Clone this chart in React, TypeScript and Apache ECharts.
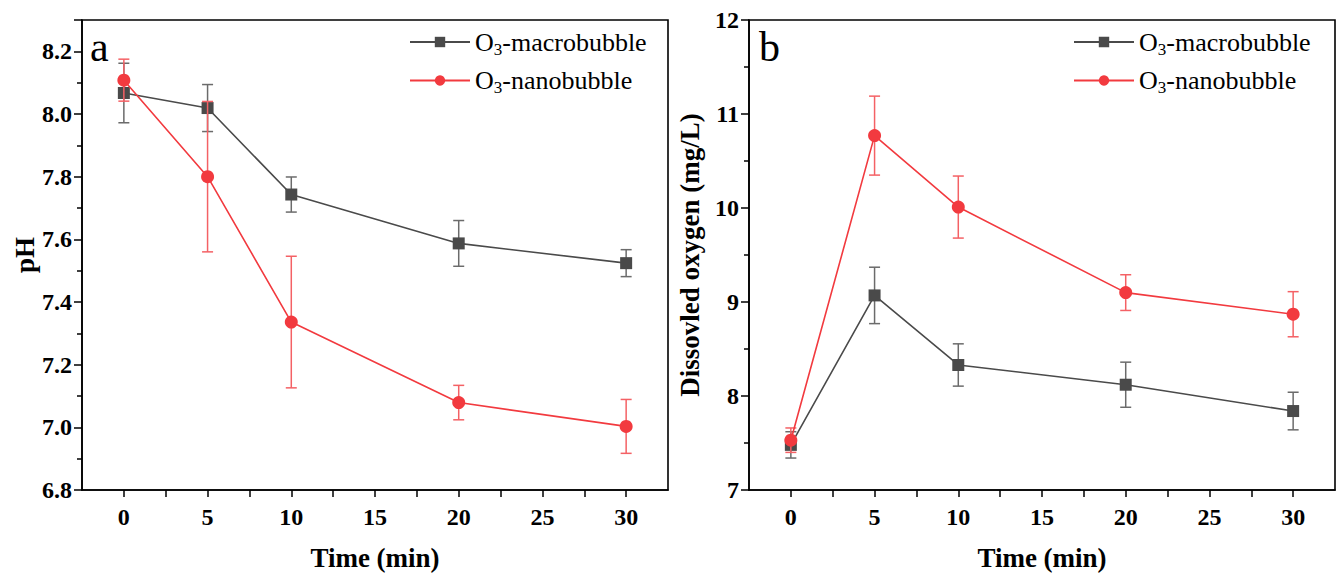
import React, { useEffect, useRef } from "react";
import * as echarts from "echarts";

const times = [0, 5, 10, 20, 30];
const phMacro = [8.067, 8.019, 7.743, 7.587, 7.524];
const phMacroErr = [0.095, 0.075, 0.056, 0.073, 0.043];
const phNano = [8.108, 7.8, 7.336, 7.079, 7.003];
const phNanoErr = [0.067, 0.24, 0.21, 0.055, 0.086];
const doMacro = [7.48, 9.07, 8.33, 8.12, 7.84];
const doMacroErr = [0.14, 0.3, 0.225, 0.24, 0.2];
const doNano = [7.53, 10.77, 10.01, 9.1, 8.87];
const doNanoErr = [0.13, 0.42, 0.33, 0.19, 0.24];
const seriesNames = ["O3-macrobubble", "O3-nanobubble"];
const xTitle = "Time (min)";
const yTitles = ["pH", "Dissovled oxygen (mg/L)"];
const panelLetters = ["a", "b"];

const FONT = '"Liberation Serif", "Times New Roman", serif';
const GREY = "#4a4a4a";
const GREY_ERR = "#6b6b6b";
const RED = "#f23a3f";
const RED_ERR = "#f46165";

function pts(vals: number[]) {
  return times.map((t, i) => [t, vals[i]]);
}
function errs(vals: number[], e: number[]) {
  return times.map((t, i) => [t, vals[i] - e[i], vals[i] + e[i]]);
}

function errSeries(idx: number, data: number[][], color: string, z: number) {
  return {
    type: "custom",
    xAxisIndex: idx,
    yAxisIndex: idx,
    z,
    silent: true,
    data,
    renderItem: (params: any, api: any) => {
      const x = api.value(0);
      const lo = api.coord([x, api.value(1)]);
      const hi = api.coord([x, api.value(2)]);
      const w = 5.5;
      const style = { stroke: color, lineWidth: 1.5 };
      return {
        type: "group",
        children: [
          { type: "line", shape: { x1: hi[0], y1: hi[1], x2: lo[0], y2: lo[1] }, style },
          { type: "line", shape: { x1: hi[0] - w, y1: hi[1], x2: hi[0] + w, y2: hi[1] }, style },
          { type: "line", shape: { x1: lo[0] - w, y1: lo[1], x2: lo[0] + w, y2: lo[1] }, style },
        ],
      };
    },
  };
}

function lineSeries(idx: number, name: string, data: number[][], color: string, symbol: string, size: number, z: number) {
  return {
    type: "line",
    name,
    xAxisIndex: idx,
    yAxisIndex: idx,
    data,
    z,
    symbol,
    symbolSize: size,
    showAllSymbol: true,
    itemStyle: { color },
    lineStyle: { color, width: 1.6 },
  };
}

const legendFmt = (name: string) => {
  const parts = name.split("3");
  return `{n|${parts[0]}}{s|3}{n|${parts[1]}}`;
};

const tickLabel = {
  color: "#000",
  fontFamily: FONT,
  fontWeight: "bold",
  fontSize: 24,
};
const axisTitle = { color: "#000", fontFamily: FONT, fontWeight: "bold", fontSize: 27 };

function xAxis(idx: number) {
  return {
    type: "value",
    gridIndex: idx,
    min: -2.5,
    max: 32.5,
    interval: 2.5,
    splitLine: { show: false },
    axisLine: { onZero: false, lineStyle: { color: "#000", width: 1.6 } },
    axisTick: { show: true, length: 7, lineStyle: { color: "#000", width: 1.5 } },
    axisLabel: {
      ...tickLabel,
      margin: 15,
      showMinLabel: false,
      showMaxLabel: false,
      formatter: (v: number) => (Math.abs(v % 5) < 1e-9 ? String(v) : ""),
    },
    name: xTitle,
    nameLocation: "middle",
    nameGap: 54,
    nameTextStyle: axisTitle,
  };
}

export default function App() {
  const ref = useRef<HTMLDivElement>(null);
  useEffect(() => {
    document.body.style.margin = "0";
    const chart = echarts.init(ref.current!, undefined, { renderer: "svg" });
    const legendBase = {
      orient: "vertical",
      itemWidth: 60,
      itemHeight: 13,
      itemGap: 10,
      data: seriesNames,
      formatter: legendFmt,
      textStyle: {
        color: "#000",
        fontFamily: FONT,
        rich: {
          n: { fontFamily: FONT, fontSize: 26, color: "#000" },
          s: { fontFamily: FONT, fontSize: 17, color: "#000", padding: [14, 0, 0, 0] },
        },
      },
      selectedMode: false,
    };
    chart.setOption({
      animation: false,
      backgroundColor: "#fff",
      grid: [
        { left: 82, top: 20, width: 586, height: 473, show: true, borderColor: "#000", borderWidth: 1.6, backgroundColor: "transparent" },
        { left: 749, top: 20, width: 586, height: 473, show: true, borderColor: "#000", borderWidth: 1.6, backgroundColor: "transparent" },
      ],
      legend: [
        { ...legendBase, left: 404, top: 24 },
        { ...legendBase, left: 1068, top: 24 },
      ],
      xAxis: [xAxis(0), xAxis(1)],
      yAxis: [
        {
          type: "value",
          gridIndex: 0,
          min: 6.8,
          max: 8.3,
          interval: 0.2,
          splitLine: { show: false },
          axisLine: { onZero: false, lineStyle: { color: "#000", width: 1.6 } },
          axisTick: { show: true, length: 8, lineStyle: { color: "#000", width: 1.5 } },
          minorTick: { show: true, splitNumber: 2, length: 5, lineStyle: { color: "#000", width: 1.5 } },
          axisLabel: {
            ...tickLabel,
            margin: 10,
            showMaxLabel: false,
            formatter: (v: number) => (v > 8.25 ? "" : v.toFixed(1)),
          },
          name: yTitles[0],
          nameLocation: "middle",
          nameGap: 42,
          nameTextStyle: axisTitle,
        },
        {
          type: "value",
          gridIndex: 1,
          min: 7,
          max: 12,
          interval: 1,
          splitLine: { show: false },
          axisLine: { onZero: false, lineStyle: { color: "#000", width: 1.6 } },
          axisTick: { show: true, length: 8, lineStyle: { color: "#000", width: 1.5 } },
          minorTick: { show: true, splitNumber: 2, length: 5, lineStyle: { color: "#000", width: 1.5 } },
          axisLabel: { ...tickLabel, margin: 10 },
          name: yTitles[1],
          nameLocation: "middle",
          nameGap: 46,
          nameTextStyle: axisTitle,
        },
      ],
      graphic: [
        { type: "text", left: 90, top: 26, style: { text: panelLetters[0], fontFamily: FONT, fontSize: 42, fill: "#000" } },
        { type: "text", left: 759, top: 26, style: { text: panelLetters[1], fontFamily: FONT, fontSize: 42, fill: "#000" } },
      ],
      series: [
        errSeries(0, errs(phMacro, phMacroErr), GREY_ERR, 2),
        lineSeries(0, seriesNames[0], pts(phMacro), GREY, "rect", 12, 3),
        errSeries(0, errs(phNano, phNanoErr), RED_ERR, 4),
        lineSeries(0, seriesNames[1], pts(phNano), RED, "circle", 13, 5),
        errSeries(1, errs(doMacro, doMacroErr), GREY_ERR, 2),
        lineSeries(1, seriesNames[0], pts(doMacro), GREY, "rect", 12, 3),
        errSeries(1, errs(doNano, doNanoErr), RED_ERR, 4),
        lineSeries(1, seriesNames[1], pts(doNano), RED, "circle", 13, 5),
      ],
    });
    return () => chart.dispose();
  }, []);
  return <div ref={ref} style={{ width: 1341, height: 576, position: "fixed", left: 0, top: 0 }} />;
}
